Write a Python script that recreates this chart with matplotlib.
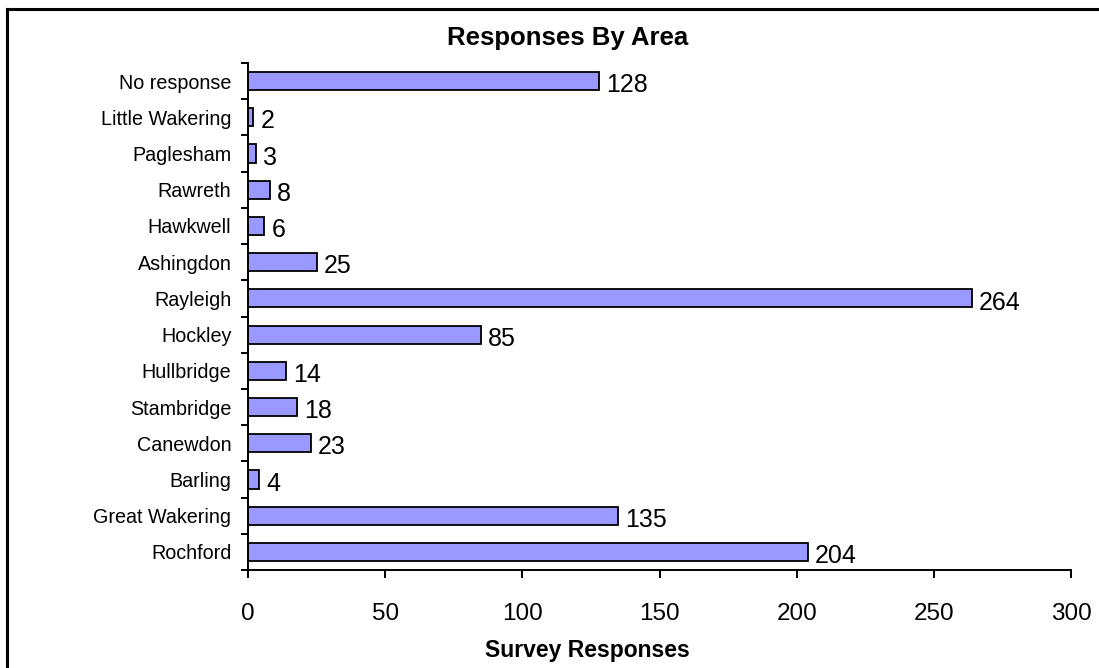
import matplotlib
matplotlib.use("Agg")
import matplotlib.pyplot as plt
from matplotlib.lines import Line2D
from matplotlib.ticker import FixedLocator

plt.rcParams['font.family'] = ['Liberation Sans', 'DejaVu Sans']

# Survey responses per area, listed bottom-to-top
areas = ["Rochford", "Great Wakering", "Barling", "Canewdon", "Stambridge",
         "Hullbridge", "Hockley", "Rayleigh", "Ashingdon", "Hawkwell",
         "Rawreth", "Paglesham", "Little Wakering", "No response"]
responses = [204, 135, 4, 23, 18, 14, 85, 264, 25, 6, 8, 3, 2, 128]
x_ticks = [0, 50, 100, 150, 200, 250, 300]

fig = plt.figure(figsize=(10.99, 6.68), dpi=100)
ax = fig.add_axes([248 / 1099, 1 - 570 / 668, (1071 - 248) / 1099, (570 - 63) / 668])

ypos = list(range(len(areas)))
ax.barh(ypos, responses, height=0.5, color="#9999FF",
        edgecolor="black", linewidth=1.3)

for y, v in zip(ypos, responses):
    ax.annotate(str(v), (v, y), xytext=(5, -3), textcoords="offset points",
                ha="left", va="center", fontsize=18)

ax.set_xlim(0, 300)
ax.set_ylim(-0.5, len(areas) - 0.5)
ax.set_xticks(x_ticks)
ax.set_xticklabels([str(t) for t in x_ticks], fontsize=17.5)
ax.tick_params(axis="x", direction="out", length=6, width=1.4, pad=18)

ax.set_yticks(ypos)
ax.set_yticklabels(areas, fontsize=14.2)
ax.yaxis.set_minor_locator(FixedLocator([i - 0.5 for i in range(len(areas) + 1)]))
ax.tick_params(axis="y", which="major", length=0, pad=12)
ax.tick_params(axis="y", which="minor", direction="out", length=5, width=1.4)

for side in ("top", "right"):
    ax.spines[side].set_visible(False)
for side in ("left", "bottom"):
    ax.spines[side].set_linewidth(1.4)

fig.text(587 / 1099, 1 - 651 / 668, "Survey Responses", ha="center", va="center",
         fontsize=16.5, fontweight="bold")
fig.text(568 / 1099, 1 - 38 / 668, "Responses By Area", ha="center", va="center",
         fontsize=18.5, fontweight="bold")

# outer chart frame (left and top edges)
fx, fy = 7 / 1099, 1 - 9 / 668
fig.add_artist(Line2D([fx, fx], [-0.1, fy], transform=fig.transFigure,
                      color="black", linewidth=2.2))
fig.add_artist(Line2D([fx, 1.1], [fy, fy], transform=fig.transFigure,
                      color="black", linewidth=2.2))

fig.savefig("out.png", dpi=100)
